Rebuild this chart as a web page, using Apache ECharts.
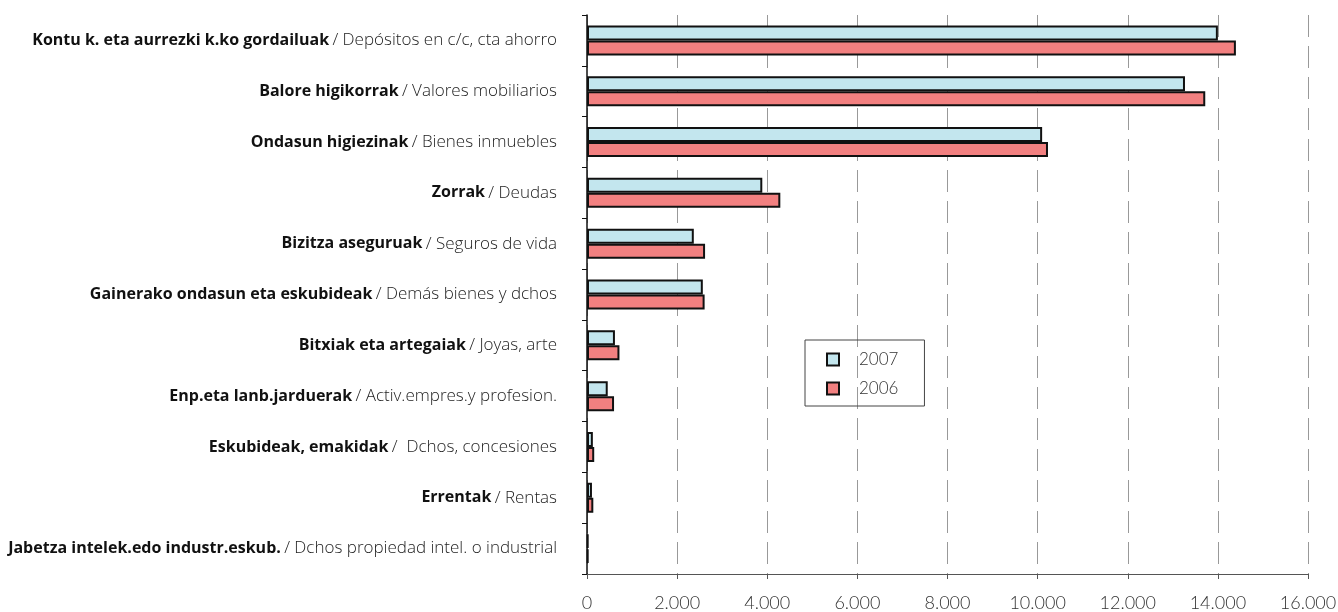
<!DOCTYPE html>
<html lang="es">
<head>
    <meta charset="UTF-8">
    <title>Gordailuak / Depósitos 2006-2007</title>
    <script src="https://cdn.jsdelivr.net/npm/echarts@6/dist/echarts.min.js"></script>
    <style>
        html, body { margin: 0; padding: 0; background: #fff; }
        #chart { width: 1338px; height: 612px; }
    </style>
</head>
<body>
<div id="chart"></div>
<script>
    // kategoriak: euskaraz (lodia) eta gaztelaniaz (fina)
    const namesEu = [
        'Kontu k. eta aurrezki k.ko gordailuak',
        'Balore higikorrak',
        'Ondasun higiezinak',
        'Zorrak',
        'Bizitza aseguruak',
        'Gainerako ondasun eta eskubideak',
        'Bitxiak eta artegaiak',
        'Enp.eta lanb.jarduerak',
        'Eskubideak, emakidak',
        'Errentak',
        'Jabetza intelek.edo industr.eskub.'
    ];
    const namesEs = [
        'Depósitos en c/c, cta ahorro',
        'Valores mobiliarios',
        'Bienes inmuebles',
        'Deudas',
        'Seguros de vida',
        'Demás bienes y dchos',
        'Joyas, arte',
        'Activ.empres.y profesion.',
        ' Dchos, concesiones',
        'Rentas',
        'Dchos propiedad intel. o industrial'
    ];
    const values2007 = [14000, 13270, 10100, 3890, 2370, 2570, 620, 460, 130, 110, 30];
    const values2006 = [14400, 13720, 10230, 4290, 2620, 2610, 720, 600, 160, 140, 30];
    const xTicks = { min: 0, max: 16000, interval: 2000 };

    const categories = namesEu.map((n, i) => n + ' / ' + namesEs[i]);

    const chart = echarts.init(document.getElementById('chart'));
    chart.setOption({
        animation: false,
        backgroundColor: '#fff',
        grid: { left: 587, right: 30, top: 15, bottom: 38, containLabel: false, outerBoundsMode: 'none' },
        legend: {
            orient: 'vertical',
            left: 805,
            top: 340,
            data: ['2007', '2006'],
            icon: 'rect',
            itemWidth: 12,
            itemHeight: 12,
            itemGap: 12,
            padding: [11, 26, 9, 21],
            borderColor: '#444',
            borderWidth: 1,
            textStyle: {
                fontFamily: 'Lato',
                fontWeight: 300,
                fontSize: 17,
                color: '#333',
                padding: [0, 0, 0, 15]
            }
        },
        xAxis: {
            type: 'value',
            min: xTicks.min,
            max: xTicks.max,
            interval: xTicks.interval,
            axisLine: { show: true, lineStyle: { color: '#555', width: 1 } },
            axisTick: { show: true, length: 5, lineStyle: { color: '#555' } },
            axisLabel: {
                margin: 20,
                fontFamily: 'Lato',
                fontWeight: 300,
                fontSize: 18,
                color: '#333',
                formatter: v => v.toString().replace(/\B(?=(\d{3})+(?!\d))/g, '.')
            },
            splitLine: {
                show: true,
                lineStyle: { color: '#999', width: 1, type: [22, 9] }
            }
        },
        yAxis: {
            type: 'category',
            inverse: true,
            data: categories,
            axisLine: { show: true, lineStyle: { color: '#111', width: 1.5 } },
            axisTick: { show: true, length: 5, lineStyle: { color: '#111' } },
            axisLabel: {
                margin: 30,
                formatter: (value, idx) => '{b|' + namesEu[idx] + '} {l|/ ' + namesEs[idx] + '}',
                rich: {
                    b: { fontFamily: 'Open Sans', fontWeight: 'bold', fontSize: 16, color: '#111' },
                    l: { fontFamily: 'Open Sans', fontWeight: 300, fontSize: 17, color: '#222' }
                }
            }
        },
        series: [
            {
                name: '2007',
                type: 'bar',
                data: values2007,
                barGap: '0%',
                barCategoryGap: '41%',
                itemStyle: { color: '#c3e6ee', borderColor: '#111', borderWidth: 2 }
            },
            {
                name: '2006',
                type: 'bar',
                data: values2006,
                itemStyle: { color: '#f28080', borderColor: '#111', borderWidth: 2 }
            }
        ]
    });
</script>
</body>
</html>
